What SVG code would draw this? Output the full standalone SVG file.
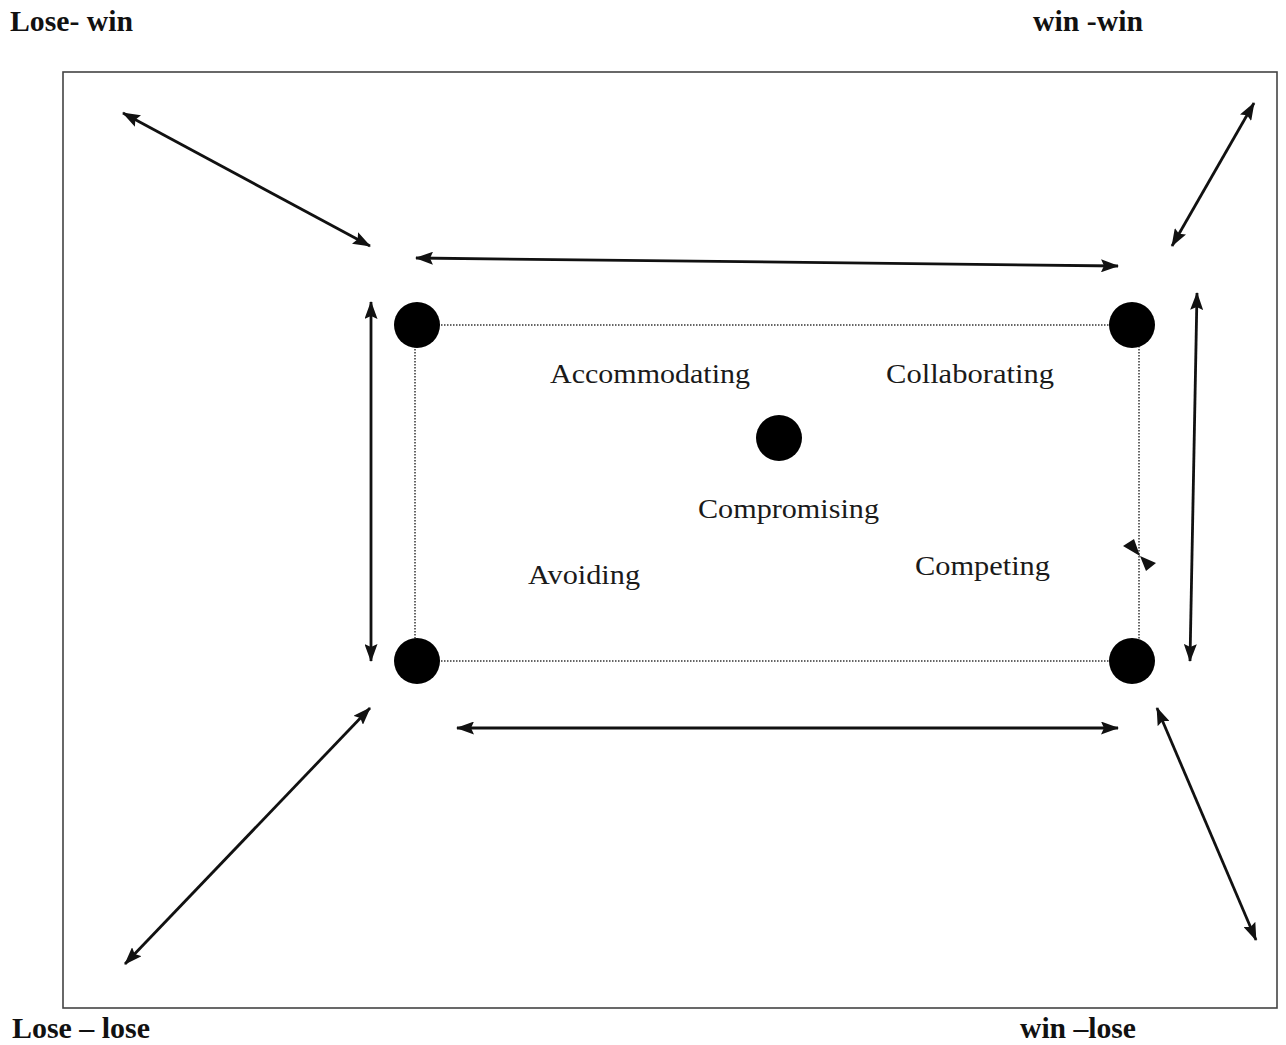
<svg xmlns="http://www.w3.org/2000/svg" width="1286" height="1045" viewBox="0 0 1286 1045">
  <defs>
    <marker id="head" viewBox="0 0 18 13" refX="17" refY="6.5" markerWidth="18" markerHeight="13" markerUnits="userSpaceOnUse" orient="auto-start-reverse">
      <path d="M0,0 L18,6.5 L0,13 L3,6.5 Z" fill="#111"/>
    </marker>
    <style>
      .corner { font-family: "Liberation Serif", "Times New Roman", serif; font-weight: bold; font-size: 29px; fill: #111; }
      .mode { font-family: "Liberation Serif", "Times New Roman", serif; font-size: 28px; fill: #1a1a1a; }
      .arrow { stroke: #111; stroke-width: 2.8; fill: none; marker-start: url(#head); marker-end: url(#head); }
      .dot { fill: #000; }
      .grid { stroke: #666; stroke-width: 2; stroke-dasharray: 1.5 1.5; fill: none; }
    </style>
  </defs>
  <rect width="1286" height="1045" fill="#fff"/>

  <!-- outer frame -->
  <rect x="63" y="72" width="1214" height="936" fill="none" stroke="#444" stroke-width="1.6"/>

  <!-- corner outcome labels -->
  <g id="label-lose-win"><text class="corner" x="10" y="31" textLength="123" lengthAdjust="spacingAndGlyphs">Lose- win</text></g>
  <g id="label-win-win"><text class="corner" x="1033" y="31" textLength="110" lengthAdjust="spacingAndGlyphs">win -win</text></g>
  <g id="label-lose-lose"><text class="corner" x="12" y="1038" textLength="138" lengthAdjust="spacingAndGlyphs">Lose – lose</text></g>
  <g id="label-win-lose"><text class="corner" x="1020" y="1038" textLength="116" lengthAdjust="spacingAndGlyphs">win –lose</text></g>

  <!-- dotted grid joining the four style points -->
  <g id="grid">
    <line class="grid" x1="417" y1="325" x2="1132" y2="325"/>
    <line class="grid" x1="417" y1="661" x2="1132" y2="661"/>
    <line class="grid" x1="415" y1="325" x2="415" y2="661"/>
    <line class="grid" x1="1139" y1="325" x2="1139" y2="661"/>
  </g>

  <!-- style points -->
  <g id="node-accommodating"><circle class="dot" cx="417" cy="325" r="23"/><text class="mode" x="550" y="383" textLength="200" lengthAdjust="spacingAndGlyphs">Accommodating</text></g>
  <g id="node-collaborating"><circle class="dot" cx="1132" cy="325" r="23"/><text class="mode" x="886" y="383" textLength="168" lengthAdjust="spacingAndGlyphs">Collaborating</text></g>
  <g id="node-avoiding"><circle class="dot" cx="417" cy="661" r="23"/><text class="mode" x="528" y="584" textLength="112" lengthAdjust="spacingAndGlyphs">Avoiding</text></g>
  <g id="node-competing"><circle class="dot" cx="1132" cy="661" r="23"/><text class="mode" x="915" y="575" textLength="135" lengthAdjust="spacingAndGlyphs">Competing</text></g>
  <g id="node-compromising"><circle class="dot" cx="779" cy="438" r="23"/><text class="mode" x="698" y="518" textLength="181" lengthAdjust="spacingAndGlyphs">Compromising</text></g>

  <!-- double-headed connectors -->
  <g id="connectors">
    <line class="arrow" x1="123" y1="113" x2="370" y2="246"/>
    <line class="arrow" x1="1254" y1="103" x2="1172" y2="246"/>
    <line class="arrow" x1="416" y1="258" x2="1118" y2="266"/>
    <line class="arrow" x1="371" y1="302" x2="371" y2="661"/>
    <line class="arrow" x1="1197" y1="293" x2="1190" y2="661"/>
    <line class="arrow" x1="457" y1="728" x2="1118" y2="728"/>
    <line class="arrow" x1="370" y1="708" x2="125" y2="964"/>
    <line class="arrow" x1="1157" y1="708" x2="1256" y2="940"/>
    <!-- collapsed double arrow on the right edge -->
    <path d="M1123,546 L1134,539 L1140,556 Z M1156,563 L1146,571 L1140,556 Z" fill="#111"/>
  </g>
</svg>
